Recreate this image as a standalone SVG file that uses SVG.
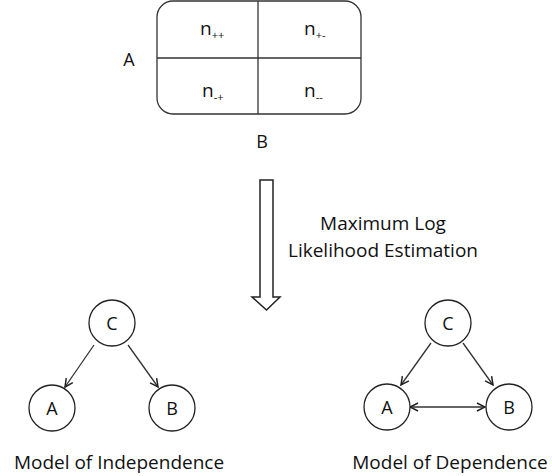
<svg xmlns="http://www.w3.org/2000/svg" width="552" height="476" viewBox="0 0 552 476">
<defs>
<style>
text{font-family:"Open Sans","Liberation Sans",sans-serif;fill:#111;}
.lbl{font-size:18px;text-anchor:middle;}
.cap{font-size:19px;text-anchor:middle;}
.cell{font-size:19px;}
.sub{font-size:11px;}
.node{fill:#fff;stroke:#222;stroke-width:1.3;}
.edge{stroke:#333;stroke-width:1.3;fill:none;}
</style>
<marker id="ah" viewBox="0 0 10 10" refX="9" refY="5" markerWidth="10" markerHeight="10" markerUnits="userSpaceOnUse" orient="auto-start-reverse">
<path d="M1,1 L9,5 L1,9" fill="none" stroke="#222" stroke-width="1.5"/>
</marker>
</defs>
<rect width="552" height="476" fill="#fff"/>
<g id="table">
<rect x="157" y="1" width="204" height="113" rx="16" fill="#fff" stroke="#333" stroke-width="1.3"/>
<line x1="258" y1="1" x2="258" y2="114" stroke="#333" stroke-width="1.3"/>
<line x1="157" y1="58" x2="361" y2="58" stroke="#333" stroke-width="1.3"/>
<text class="cell" x="200" y="35">n<tspan class="sub" dy="4">++</tspan></text>
<text class="cell" x="304" y="35">n<tspan class="sub" dy="4">+-</tspan></text>
<text class="cell" x="202" y="97">n<tspan class="sub" dy="4">-+</tspan></text>
<text class="cell" x="304" y="97">n<tspan class="sub" dy="4">--</tspan></text>
<text class="lbl" x="129" y="66">A</text>
<text class="lbl" x="262" y="148">B</text>
</g>
<g id="mle-arrow">
<path d="M260,180 L273,180 L273,297 L280,297 L266.5,310 L252,297 L260,297 Z" fill="#fff" stroke="#222" stroke-width="1.5"/>
<text class="cap" x="383" y="230">Maximum Log</text>
<text class="cap" x="383" y="257">Likelihood Estimation</text>
</g>
<g id="connectors">
<line class="edge" x1="94" y1="345" x2="65" y2="387" marker-end="url(#ah)"/>
<line class="edge" x1="128" y1="345" x2="158" y2="387" marker-end="url(#ah)"/>
<line class="edge" x1="431" y1="343" x2="401" y2="385" marker-end="url(#ah)"/>
<line class="edge" x1="463" y1="343" x2="493" y2="385" marker-end="url(#ah)"/>
<line class="edge" x1="410" y1="407" x2="485" y2="407" marker-start="url(#ah)" marker-end="url(#ah)"/>
</g>
<g id="ind-C"><circle class="node" cx="112" cy="323" r="23"/><text class="lbl" x="112" y="329.5">C</text></g>
<g id="ind-A"><circle class="node" cx="52" cy="408" r="23"/><text class="lbl" x="52" y="414.5">A</text></g>
<g id="ind-B"><circle class="node" cx="172" cy="408" r="23"/><text class="lbl" x="172" y="414.5">B</text></g>
<text class="cap" x="119" y="469" font-size="19.5">Model of Independence</text>
<g id="dep-C"><circle class="node" cx="448" cy="323" r="23"/><text class="lbl" x="448" y="329.5">C</text></g>
<g id="dep-A"><circle class="node" cx="387" cy="407" r="23"/><text class="lbl" x="387" y="413.5">A</text></g>
<g id="dep-B"><circle class="node" cx="509" cy="407" r="23"/><text class="lbl" x="509" y="413.5">B</text></g>
<text class="cap" x="450" y="469" font-size="19.5">Model of Dependence</text>
</svg>
